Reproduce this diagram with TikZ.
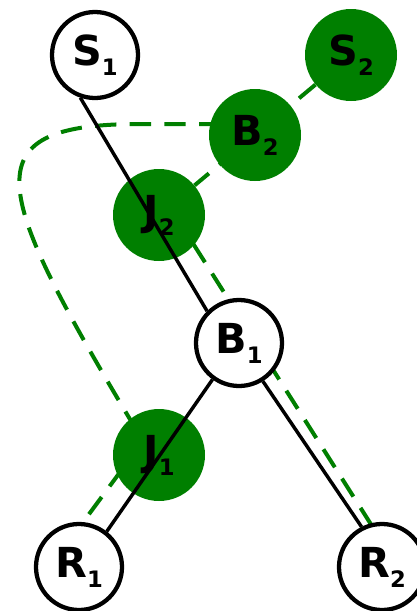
\documentclass[tikz,border=0pt]{standalone}
\usepackage{fontspec}
\setmainfont{DejaVu Sans}
\usepackage{xcolor}
\usepackage{tikz}
\usetikzlibrary{calc,backgrounds}
\definecolor{TrGreen}{HTML}{007F00}
\definecolor{TrBlack}{RGB}{0,0,0}
\definecolor{TrWhite}{RGB}{255,255,255}
\colorlet{TrRoute}{TrGreen}
\colorlet{TrTree}{TrBlack}
\newcommand{\nlbl}[2]{#1\raisebox{-7.5pt}{\fontsize{17}{18}\selectfont #2}}
\tikzset{
  plainnode/.style={circle, draw=TrTree, fill=TrWhite, line width=3.2pt,
    minimum size=64.5pt, inner sep=0pt, font=\fontsize{31}{36}\selectfont\bfseries},
  greennode/.style={circle, fill=TrGreen, minimum size=69pt, inner sep=0pt,
    font=\fontsize{31}{36}\selectfont\bfseries},
  treeline/.style={draw=TrTree, line width=2.6pt},
  routeline/.style={draw=TrRoute, line width=3pt, dash pattern=on 16pt off 10pt},
}

\begin{document}
\begin{tikzpicture}[x=0.75pt,y=-0.75pt]
  \useasboundingbox (0,0) rectangle (417,611);

  % nodes
  \node[greennode] (S2) at (351,55)  {\nlbl{S}{2}};
  \node[greennode] (B2) at (255,135) {\nlbl{B}{2}};
  \node[greennode] (J2) at (159,215) {\nlbl{J}{2}};
  \node[greennode] (J1) at (159,455) {\nlbl{J}{1}};
  \node[plainnode] (S1) at (95,55)   {\nlbl{S}{1}};
  \node[plainnode] (B1) at (239,343) {\nlbl{B}{1}};
  \node[plainnode] (R1) at (79,567)  {\nlbl{R}{1}};
  \node[plainnode] (R2) at (382,567) {\nlbl{R}{2}};

  % green routes, behind everything
  \begin{scope}[on background layer]
    \draw[routeline] (S2) -- (J2);
    \draw[routeline] ($(J2)+(16,0)$) -- ($(R2)+(16,0)$);
    \draw[routeline] ($(B2)+(0,-11)$) -- (140,124)
      .. controls (-35,124) and (-7,191) .. ($(J1)+(-16,-14)$)
      -- ($(R1)+(-29,0)$);
  \end{scope}

  % black tree
  \draw[treeline] (S1.251) -- (B1.135);
  \draw[treeline] (B1.234) -- (R1.52);
  \draw[treeline] (B1.302) -- (R2.117);
\end{tikzpicture}
\end{document}
